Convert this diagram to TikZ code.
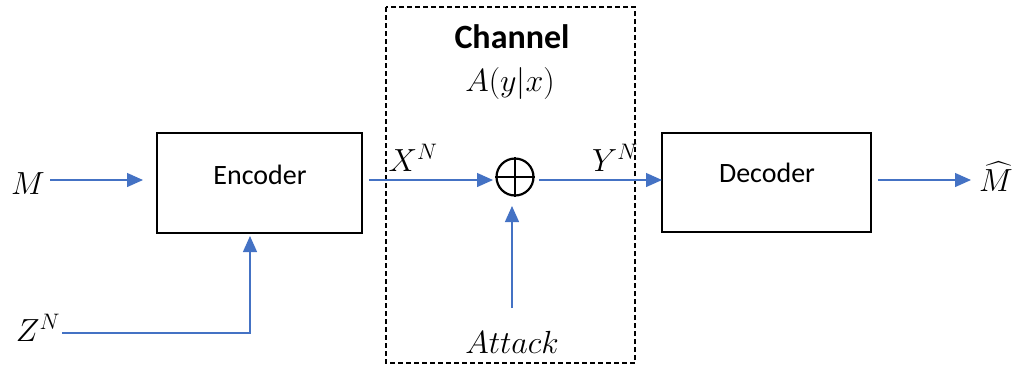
\RequirePackage{fix-cm}
\documentclass[tikz,border=0pt]{standalone}
\usepackage{amsmath}
\usepackage{fontspec}
\newfontfamily\calibri{Carlito}
\usetikzlibrary{arrows.meta}
\definecolor{flowblue}{HTML}{4472C4}
\tikzset{
  blockbox/.style={draw=black, line width=2.2pt, minimum width=205pt, minimum height=100pt, inner sep=0pt},
  blocktext/.style={font=\calibri\fontsize{28}{32}\selectfont, inner sep=0pt},
  mathlabel/.style={font=\fontsize{32}{38}\selectfont, inner sep=0pt},
  flow/.style={draw=flowblue, line width=1.3pt, -{Triangle[length=16pt,width=14pt]}, color=flowblue},
  channelbox/.style={draw=black, line width=2pt, dash pattern=on 5pt off 3pt},
  xorsym/.style={circle, draw=black, line width=2.2pt, minimum size=37pt, inner sep=0pt}
}
\begin{document}
\begin{tikzpicture}[x=1pt, y=-1pt]
  \useasboundingbox (0,0) rectangle (1013,368);

  % channel enclosure
  \draw[channelbox] (386,7) rectangle (635,363);
  \node[font=\calibri\bfseries\fontsize{34}{40}\selectfont, inner sep=0pt] (chtitle) at (512,37) {Channel};
  \node[mathlabel] (law) at (510,83) {$A(y|x)$};

  % encoder and decoder blocks
  \node[blockbox] (enc) at (259.5,183) {};
  \node[blocktext] (enctxt) at (260,175) {Encoder};
  \node[blockbox, minimum width=209pt, minimum height=99pt] (dec) at (766.5,182.5) {};
  \node[blocktext] (dectxt) at (767,173) {Decoder};

  % adder
  \node[xorsym] (sum) at (515,177) {};
  \draw[line width=2.2pt] (sum.north) -- (sum.south) (sum.west) -- (sum.east);

  % labels
  \node[mathlabel] (m) at (28,184) {$M$};
  \node[mathlabel] (z) at (38,328) {$Z^N$};
  \node[mathlabel] (xn) at (413,158) {$X^N$};
  \node[mathlabel] (yn) at (615,158) {$Y^N$};
  \node[mathlabel] (att) at (512,342) {$Attack$};
  \node[mathlabel] (mhat) at (996,177) {$\widehat{M}$};

  % coordinates for connector ends
  \coordinate (mstart) at (50,180);
  \coordinate (mend) at (143,180);
  \coordinate (zstart) at (62,333);
  \coordinate (zcorner) at (250,333);
  \coordinate (zend) at (250,236);
  \coordinate (xstart) at (369,180);
  \coordinate (xend) at (493,180);
  \coordinate (ystart) at (539,180);
  \coordinate (yend) at (662,180);
  \coordinate (astart) at (512,308);
  \coordinate (aend) at (512,206);
  \coordinate (ostart) at (878,180);
  \coordinate (oend) at (971,180);

  % signal flow
  \draw[flow] (mstart) -- (mend);
  \draw[flow] (zstart) -- (zcorner) -- (zend);
  \draw[flow] (xstart) -- (xend);
  \draw[flow] (ystart) -- (yend);
  \draw[flow] (astart) -- (aend);
  \draw[flow] (ostart) -- (oend);
\end{tikzpicture}
\end{document}
